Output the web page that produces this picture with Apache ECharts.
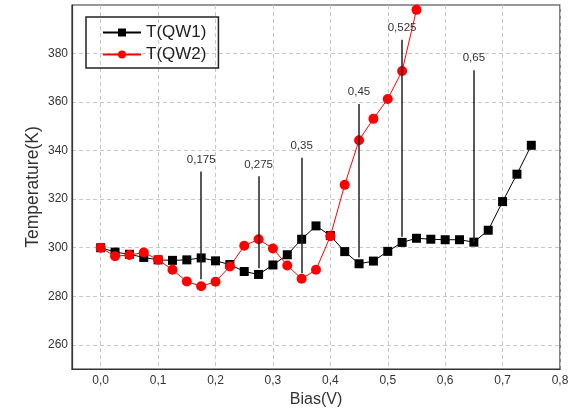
<!DOCTYPE html>
<html><head><meta charset="utf-8">
<script src="https://cdn.jsdelivr.net/npm/echarts@6/dist/echarts.min.js"></script>
<style>html,body{margin:0;padding:0;background:#fff}#c{width:577px;height:413px}</style>
</head><body><div id="c"></div>
<script>
const bias = [0,0.025,0.05,0.075,0.1,0.125,0.15,0.175,0.2,0.225,0.25,0.275,0.3,0.325,0.35,0.375,0.4,0.425,0.45,0.475,0.5,0.525,0.55,0.575,0.6,0.625,0.65,0.675,0.7,0.725,0.75];
const qw1 = [300,298.2,297.3,296,295,294.8,295,295.8,294.6,293.1,290.2,289,292.9,297.1,303.5,309,305,298.4,293.4,294.5,298.5,302.2,303.9,303.5,303.3,303.3,302.3,307.2,319,330.3,342.2];
const biasQW2 = [0,0.025,0.05,0.075,0.1,0.125,0.15,0.175,0.2,0.225,0.25,0.275,0.3,0.325,0.35,0.375,0.4,0.425,0.45,0.475,0.5,0.525,0.55,0.575];
const qw2 = [300,296.5,297,298,295.1,290.9,286.1,284.1,286,292.3,300.8,303.5,299.7,292.7,287.2,290.9,304.7,325.9,344.3,353.1,361.3,372.8,398,424];
const annotX = [0.175,0.275,0.35,0.45,0.525,0.65];
const annotTop = [331.4,329.4,337.1,359.2,385.7,373.1];
const annotBottom = [287,291.5,289.5,296,304.5,302.3];
const annotText = ['0,175','0,275','0,35','0,45','0,525','0,65'];
const xTicks = [0,0.1,0.2,0.3,0.4,0.5,0.6,0.7,0.8];
const yTicks = [260,280,300,320,340,360,380];

const font = 'Liberation Sans, Arial, sans-serif';
const chart = echarts.init(document.getElementById('c'), null, {renderer:'canvas'});
const gridLine = {show:true, lineStyle:{color:'#c8c8c8', type:[4,3], width:1}};
chart.setOption({
  animation:false,
  backgroundColor:'#fff',
  grid:{left:72, right:17, top:5, bottom:40, show:true, borderColor:'#333', borderWidth:1.2, backgroundColor:'transparent'},
  legend:{
    orient:'vertical', left:86, top:17, padding:[7,12,5,16],
    borderColor:'#222', borderWidth:1.5, itemWidth:38, itemHeight:10, itemGap:5,
    textStyle:{fontFamily:font, fontSize:17, color:'#222'},
    data:['T(QW1)','T(QW2)']
  },
  xAxis:{
    type:'value', min:-0.05, max:0.8,
    name:'Bias(V)', nameLocation:'middle', nameGap:22,
    nameTextStyle:{fontFamily:font, fontSize:16, color:'#333'},
    axisLine:{show:true, onZero:false, lineStyle:{color:'#333', width:1.2}},
    axisTick:{show:false, customValues:xTicks},
    axisLabel:{customValues:xTicks, fontFamily:font, fontSize:12, color:'#333', margin:6,
      formatter:v=>v.toFixed(1).replace('.',',')},
    splitLine:gridLine
  },
  yAxis:{
    type:'value', min:250, max:400,
    name:'Temperature(K)', nameLocation:'middle', nameGap:30, nameMoveOverlap:false,
    nameTextStyle:{fontFamily:font, fontSize:17.5, color:'#333'},
    axisLine:{show:true, onZero:false, lineStyle:{color:'#333', width:1.2}},
    axisTick:{show:false, customValues:yTicks},
    axisLabel:{customValues:yTicks, fontFamily:font, fontSize:12, color:'#333', margin:4},
    splitLine:gridLine
  },
  series:[
    {
      name:'T(QW1)', type:'line', data:bias.map((x,i)=>[x,qw1[i]]),
      symbol:'rect', symbolSize:9, z:3,
      lineStyle:{color:'#000', width:1}, itemStyle:{color:'#000'},
      markLine:{
        silent:true, symbol:'none', animation:false,
        lineStyle:{color:'#222', width:1.5, type:'solid'},
        label:{position:'start', fontFamily:font, fontSize:11.5, color:'#333', distance:6},
        data:annotX.map((x,i)=>[
          {coord:[x,annotTop[i]], label:{formatter:annotText[i]}},
          {coord:[x,annotBottom[i]]}
        ])
      }
    },
    {
      name:'T(QW2)', type:'line', data:biasQW2.map((x,i)=>[x,qw2[i]]),
      symbol:'circle', symbolSize:10, z:4, clip:true,
      lineStyle:{color:'#ff0000', width:1}, itemStyle:{color:'#ff0000'}
    }
  ]
});
</script></body></html>
